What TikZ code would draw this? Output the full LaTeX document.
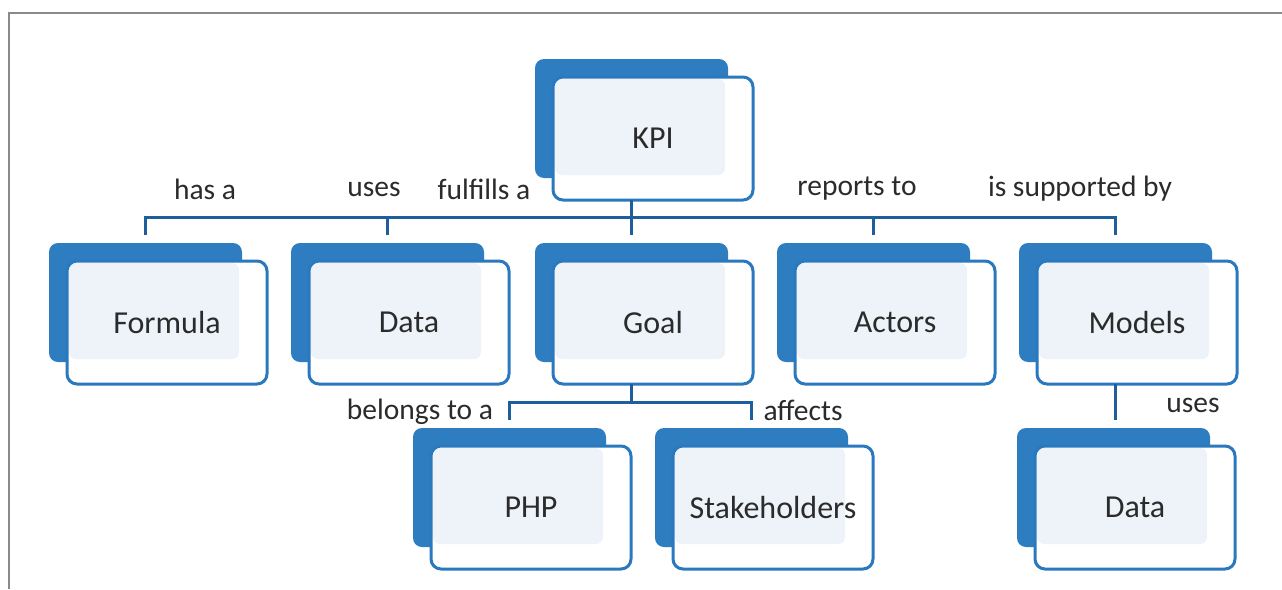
\documentclass[tikz,border=0pt]{standalone}
\usepackage{fontspec}
\setmainfont{Carlito}
\usetikzlibrary{calc}
\definecolor{kdark}{HTML}{2E7DC1}
\definecolor{kedge}{HTML}{2A78BE}
\definecolor{kline}{HTML}{1F5E9C}
\definecolor{ktint}{HTML}{EDF3F9}
\definecolor{ktext}{HTML}{2B2B2B}
\definecolor{kframe}{HTML}{8A8A8A}
\tikzset{
  kpiback/.style={fill=kdark, rounded corners=9pt, minimum width=193pt, minimum height=119pt, inner sep=0pt, outer sep=0pt, anchor=north west},
  kpifront/.style={draw=kedge, line width=3pt, fill=white, rounded corners=10pt,
    minimum width=200pt, minimum height=123pt, inner sep=0pt, outer sep=0pt, anchor=north west,
    text=ktext, font=\fontsize{32}{34}\selectfont,
    path picture={\fill[ktint, rounded corners=7pt]
      ([shift={(2pt,-2pt)}]path picture bounding box.north west) rectangle
      ([shift={(-28pt,25pt)}]path picture bounding box.south east);}},
  conn/.style={draw=kline, line width=3pt},
  rel/.style={text=ktext, font=\fontsize{29.5}{31}\selectfont, inner sep=0pt}
}
% box: name, front top-left x, front top-left y, text
\newcommand\kbox[4]{%
  \node[kpiback] (#1b) at (#2-18,#3-18) {};
  \node[kpifront] (#1) at (#2,#3) {#4};}
\begin{document}
\begin{tikzpicture}[x=1pt,y=-1pt]
\useasboundingbox (0,0) rectangle (1282,589);
\fill[white] (0,0) rectangle (1282,589);
\draw[kframe, line width=2pt] (9,589) -- (9,13) -- (1282,13);

% boxes
\kbox{kpi}{553}{77}{KPI}
\kbox{formula}{67}{261}{Formula}
\kbox{data}{309}{261}{Data}
\kbox{goal}{553}{261}{Goal}
\kbox{actors}{795}{261}{Actors}
\kbox{models}{1037}{261}{Models}
\kbox{php}{431}{446}{PHP}
\kbox{stake}{673}{446}{Stakeholders}
\kbox{data2}{1035}{446}{Data}

% first level connectors
\draw[conn] (kpi.south -| goalb.north) -- ++(0,17) coordinate (j1);
\draw[conn] ([yshift=8pt]formulab.north) |- (j1) -| ([yshift=8pt]modelsb.north);
\draw[conn] ([yshift=8pt]datab.north) -- (datab.north |- j1);
\draw[conn] ([yshift=8pt]goalb.north) -- (goalb.north |- j1);
\draw[conn] ([yshift=8pt]actorsb.north) -- (actorsb.north |- j1);

% second level connectors
\draw[conn] (goal.south -| goalb.north) -- ++(0,18) coordinate (j2);
\draw[conn] ([yshift=8pt]phpb.north) |- (j2) -| ([yshift=8pt]stakeb.north);
\draw[conn] (models.south -| modelsb.north) -- ([yshift=8pt]data2b.north -| modelsb.north);

% relation labels
\node[rel] (l1) at (205,189) {has a};
\node[rel] (l2) at (374,189) {uses};
\node[rel] (l3) at (484,189) {fulfills a};
\node[rel] (l4) at (857,189) {reports to};
\node[rel] (l5) at (1080,189) {is supported by};
\node[rel] (l6) at (420,412) {belongs to a};
\node[rel] (l7) at (803,410) {affects};
\node[rel] (l8) at (1193,405) {uses};
\end{tikzpicture}
\end{document}
